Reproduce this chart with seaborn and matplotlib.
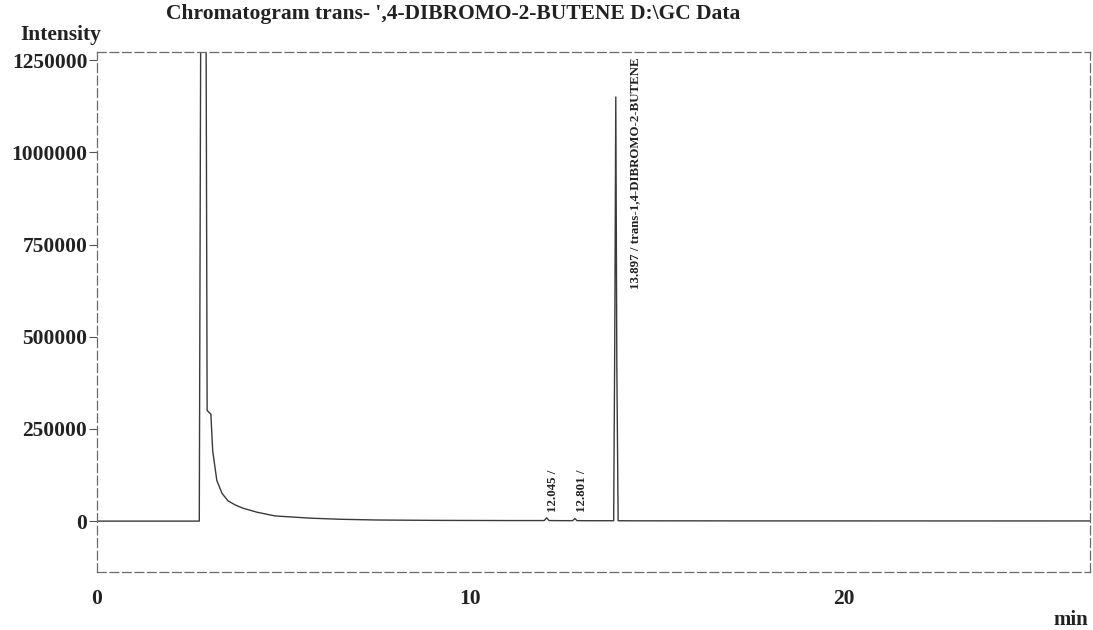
import numpy as np
import pandas as pd
import matplotlib
matplotlib.use("Agg")
import matplotlib.pyplot as plt
import seaborn as sns

# trace (time in min, intensity in counts)
time_min = [0.0, 2.74, 2.78, 2.86, 2.92, 2.95, 3.05, 3.10, 3.21, 3.35, 3.51, 3.70,
            3.91, 4.29, 4.77, 5.71, 6.51, 7.5, 9.0, 11.0, 11.98, 12.045, 12.11,
            12.50, 12.74, 12.801, 12.86, 13.30, 13.84, 13.87, 13.897, 13.925,
            13.96, 14.3, 17.0, 21.0, 26.6]
intensity = [0, 0, 1400000, 1400000, 1400000, 300000, 290000, 190000, 110000, 75000,
             55000, 44000, 35000, 24000, 14000, 8000, 5000, 3000, 2000, 1500, 1500,
             9000, 1500, 1200, 1200, 7000, 1200, 1000, 1000, 500000, 1150000,
             420000, 1000, 800, 600, 500, 400]

peak_times = [12.045, 12.801, 13.897]
peak_labels = ["12.045 /", "12.801 /", "13.897 / trans-1,4-DIBROMO-2-BUTENE"]
peak_label_y = [24000, 24000, 630000]

y_ticks = [0, 250000, 500000, 750000, 1000000, 1250000]
x_ticks = [0, 10, 20]

trace = pd.DataFrame({"time": time_min, "intensity": intensity})

sns.set_theme(style="white")
plt.rcParams["font.family"] = ["Liberation Serif", "DejaVu Serif"]
plt.rcParams["font.weight"] = "bold"

fig = plt.figure(figsize=(10.93, 6.30), dpi=100)
ax = fig.add_axes([97 / 1093, 1 - 572 / 630, (1090 - 97) / 1093, (572 - 52) / 630])

sns.lineplot(data=trace, x="time", y="intensity", ax=ax, sort=False,
             estimator=None, color="#3a3a3a", linewidth=1.0)

ax.set_xlim(0, 26.6)
ax.set_ylim(-138000, 1272000)

ax.set_yticks(y_ticks)
ax.set_yticklabels([str(v) for v in y_ticks], fontsize=15.5, fontweight="bold")
ax.set_xticks(x_ticks)
ax.set_xticklabels([str(v) for v in x_ticks], fontsize=15.5, fontweight="bold")
ax.tick_params(axis="y", direction="out", length=6, width=0.8, pad=1,
               colors="#555555", labelcolor="#222222", left=True)
ax.tick_params(axis="x", direction="out", length=0, pad=12, labelcolor="#222222")
ax.set_xlabel("")
ax.set_ylabel("")

for side in ["top", "bottom", "left", "right"]:
    ax.spines[side].set_color("#6a6a6a")
    ax.spines[side].set_linewidth(0.9)
    ax.spines[side].set_linestyle((0, (7, 3)))

# small peak labels sit right on the peak, the main one a little to the right
for t, lab, y in zip(peak_times, peak_labels, peak_label_y):
    dx = 0.35 if len(lab) > 10 else 0.02
    ax.text(t + dx, y, lab, rotation=90, ha="left", va="bottom",
            fontsize=9.3, fontweight="bold", color="#222222")

fig.text(453 / 1093, 1 - 14 / 630, "Chromatogram trans- ',4-DIBROMO-2-BUTENE D:\\GC Data",
         ha="center", va="center", fontsize=15.5, fontweight="bold", color="#222222")
fig.text(20 / 1093, 1 - 35 / 630, "Intensity", ha="left", va="center",
         fontsize=15.5, fontweight="bold", color="#222222")
fig.text(1053 / 1093, 1 - 620 / 630, "min", ha="left", va="center",
         fontsize=15, fontweight="bold", color="#222222")

fig.savefig("out.png", dpi=100, facecolor="white")
